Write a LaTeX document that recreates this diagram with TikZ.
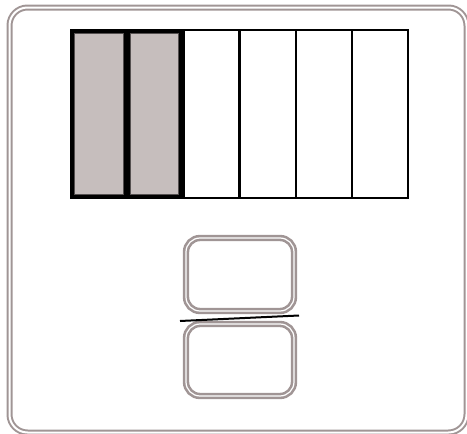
\documentclass[tikz,border=0pt]{standalone}
\usetikzlibrary{positioning}
\definecolor{frame}{HTML}{A09595}
\definecolor{cellfill}{HTML}{C6BEBD}
\definecolor{innerline}{HTML}{555050}
\begin{document}
\begin{tikzpicture}[x=1pt,y=-1pt,
  framestyle/.style={draw=frame,line width=2pt,double=white,double distance=2pt,rounded corners=18pt},
  boxstyle/.style={draw=frame,line width=2.6pt,double=white,double distance=1.2pt,rounded corners=14pt},
  cellplain/.style={draw=black,line width=2.4pt,fill=white},
  cellshade/.style={draw=black,line width=4.5pt,fill=cellfill},
  cellinner/.style={draw=innerline,line width=1pt}]
\useasboundingbox (0,0) rectangle (467,434);
\draw[framestyle] (9.5,7.5) rectangle (466.5,432.5);
% grid cells
\foreach \i in {2,...,5}{
  \draw[cellplain] ({71+\i*56.2},30) rectangle ({71+(\i+1)*56.2},198);
}
\foreach \i in {0,1}{
  \draw[cellshade] ({72+\i*55.5},31) rectangle ({126+\i*55.5},197);
  \draw[cellinner] ({74.8+\i*55.5},33.8) rectangle ({123.2+\i*55.5},194.2);
}
\node[boxstyle,minimum width=108pt,minimum height=73pt,inner sep=0pt] (top) at (240,274.5) {};
\node[boxstyle,minimum width=108pt,minimum height=72pt,inner sep=0pt] (bot) at (240,360) {};
\coordinate (l1) at (180,321);
\coordinate (l2) at (299,315.5);
\draw[black,line width=2pt] (l1) -- (l2);
\end{tikzpicture}
\end{document}
